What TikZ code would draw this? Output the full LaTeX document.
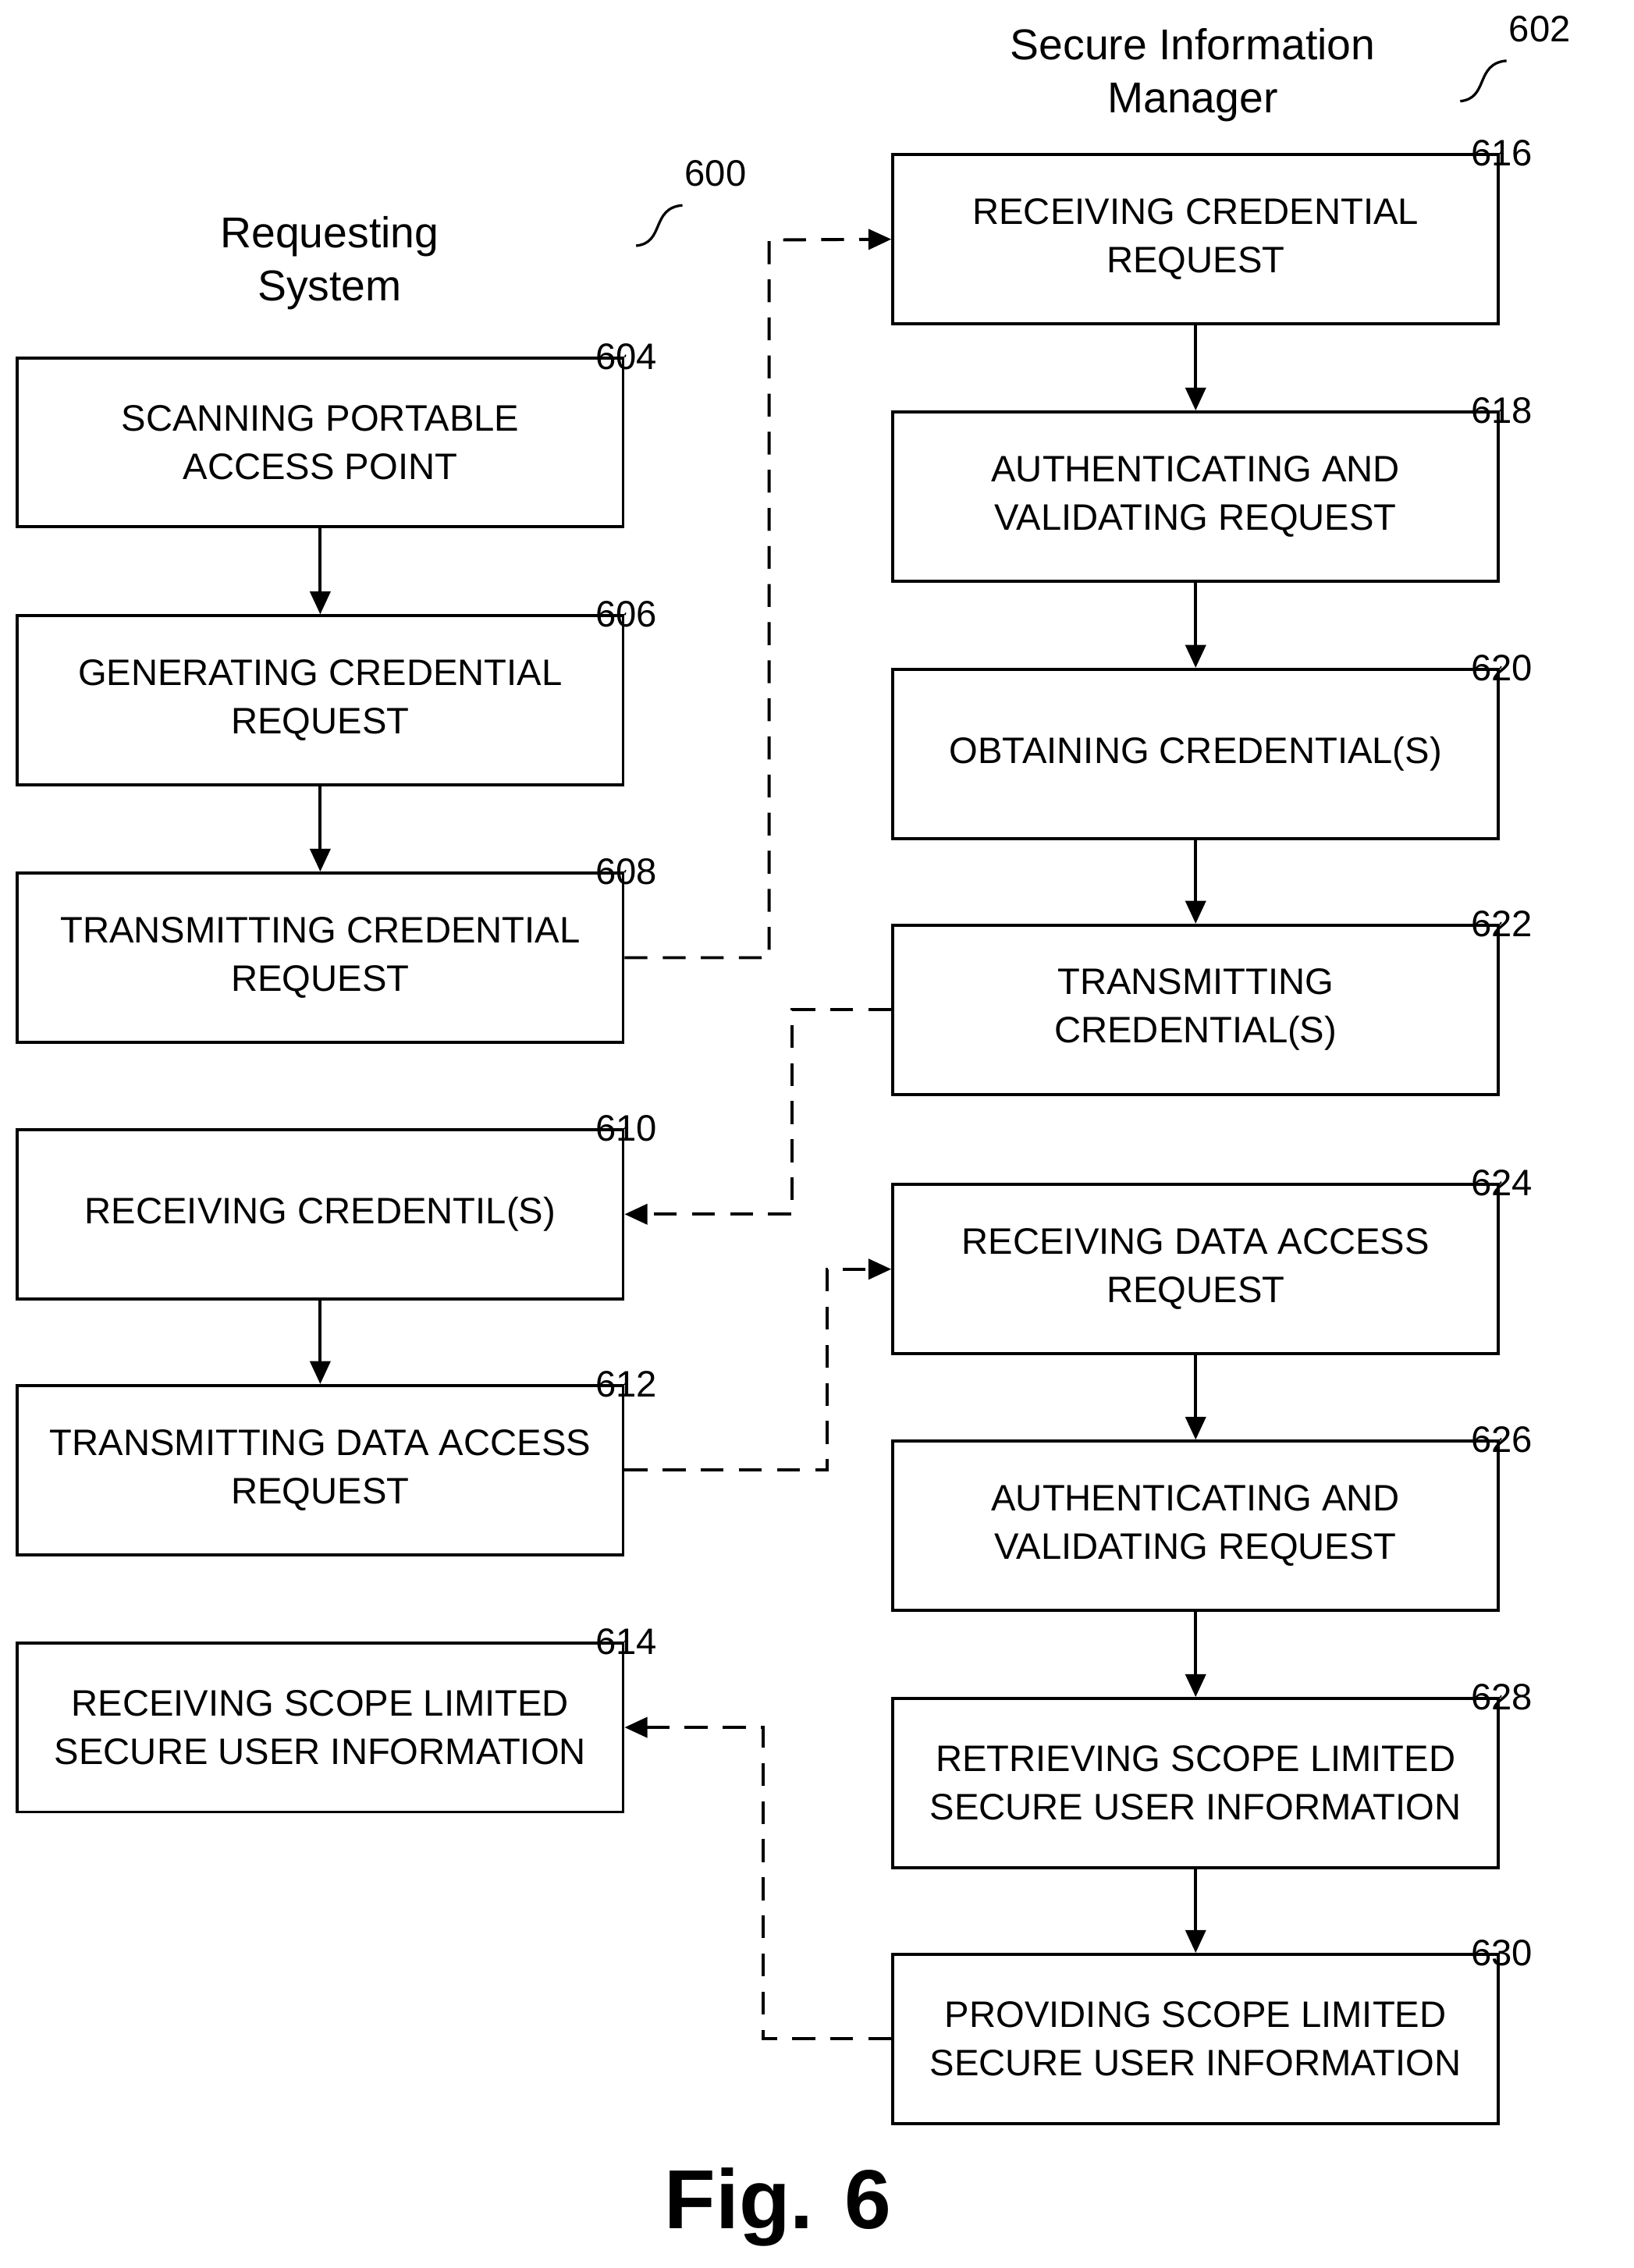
\documentclass[tikz,border=0pt]{standalone}
\usepackage{fontspec}
\setmainfont{Liberation Sans}
\usetikzlibrary{arrows.meta,calc}
\tikzset{
  proc/.style={draw,line width=1.2pt,minimum width=8.38cm,minimum height=2.34cm,
    align=center,font=\fontsize{14.5}{19}\selectfont},
  flow/.style={-{Triangle[length=9pt,width=8pt]},line width=1.2pt},
  msg/.style={flow,dashed,dash pattern=on 9pt off 6pt},
  hdr/.style={align=center,font=\fontsize{17}{21}\selectfont},
  refn/.style={font=\fontsize{14.5}{17}\selectfont}
}
\newcommand{\refnum}[2]{%
  \draw[line width=1pt] ($(#1.north east)+(0.04,-0.44)$) .. controls +(0.3,0.1) and +(-0.3,-0.1) .. ($(#1.north east)+(0.88,-0.08)$);
  \node[refn] at ($(#1.north east)+(1.22,0.14)$) {#2};}
\begin{document}
\begin{tikzpicture}[x=0.02cm,y=-0.02cm]
\useasboundingbox (0,0) rectangle (1130,1569);
% headers
\node[hdr] (hreq) at (228,182) {Requesting\\System};
\node[hdr] (hsim) at (825,52) {Secure Information\\Manager};
\node[refn] (n600) at (495,120) {600};
\draw[line width=1pt] (440,170) .. controls (460,168) and (450,144) .. (472,142);
\node[refn] (n602) at (1065,20) {602};
\draw[line width=1pt] (1010,70) .. controls (1030,68) and (1020,44) .. (1042,42);
% requesting system
\node[proc] (s604) at (221.5,306) {SCANNING PORTABLE\\ACCESS POINT};
\node[proc] (s606) at (221.5,484.5) {GENERATING CREDENTIAL\\REQUEST};
\node[proc] (s608) at (221.5,662.5) {TRANSMITTING CREDENTIAL\\REQUEST};
\node[proc] (s610) at (221.5,840) {RECEIVING CREDENTIL(S)};
\node[proc] (s612) at (221.5,1017) {TRANSMITTING DATA ACCESS\\REQUEST};
\node[proc] (s614) at (221.5,1195) {RECEIVING SCOPE LIMITED\\SECURE USER INFORMATION};
% secure information manager
\node[proc] (s616) at (827,165.5) {RECEIVING CREDENTIAL\\REQUEST};
\node[proc] (s618) at (827,343.5) {AUTHENTICATING AND\\VALIDATING REQUEST};
\node[proc] (s620) at (827,521.5) {OBTAINING CREDENTIAL(S)};
\node[proc] (s622) at (827,698.5) {TRANSMITTING\\CREDENTIAL(S)};
\node[proc] (s624) at (827,878) {RECEIVING DATA ACCESS\\REQUEST};
\node[proc] (s626) at (827,1055.5) {AUTHENTICATING AND\\VALIDATING REQUEST};
\node[proc] (s628) at (827,1233.5) {RETRIEVING SCOPE LIMITED\\SECURE USER INFORMATION};
\node[proc] (s630) at (827,1410.5) {PROVIDING SCOPE LIMITED\\SECURE USER INFORMATION};
\foreach \n in {604,606,...,630} {\refnum{s\n}{\n}}
% flow
\draw[flow] (s604) -- (s606);
\draw[flow] (s606) -- (s608);
\draw[flow] (s610) -- (s612);
\draw[flow] (s616) -- (s618);
\draw[flow] (s618) -- (s620);
\draw[flow] (s620) -- (s622);
\draw[flow] (s624) -- (s626);
\draw[flow] (s626) -- (s628);
\draw[flow] (s628) -- (s630);
% messages
\draw[msg] (s608.east) -| (532,166) -- (s616.west);
\draw[msg] (s622.west) -| (548,840) -- (s610.east);
\draw[msg] (s612.east) -| (572,878) -- (s624.west);
\draw[msg] (s630.west) -| (528,1195) -- (s614.east);
\node[font=\bfseries\fontsize{33}{36}\selectfont] (fig) at (538,1527) {Fig. 6};
\end{tikzpicture}
\end{document}
